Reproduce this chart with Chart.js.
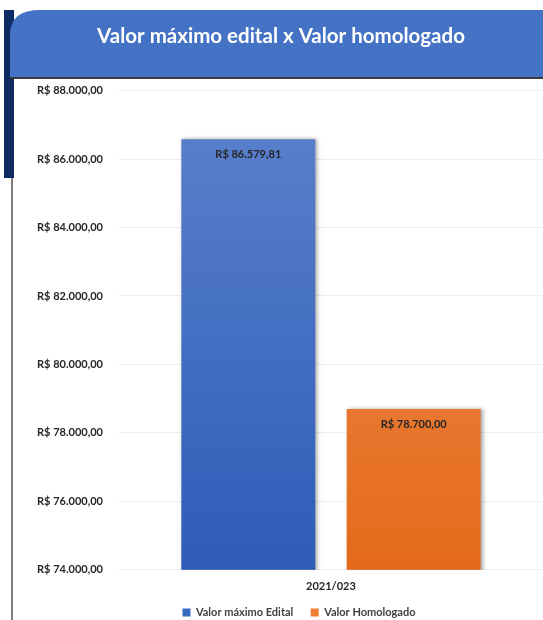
<!DOCTYPE html>
<html>
<head>
<meta charset="utf-8">
<script src="https://cdn.jsdelivr.net/npm/chart.js@4/dist/chart.umd.min.js"></script>
<style>
  html, body { margin: 0; padding: 0; background: #fff; }
  #wrap { position: relative; width: 543px; height: 620px; }
</style>
</head>
<body>
<div id="wrap"><canvas id="chart"></canvas></div>
<script>
// data
const categories = ['2021/023'];
const seriesNames = ['Valor máximo Edital', 'Valor Homologado'];
const valorMaximo = [86579.81];
const valorHomologado = [78700.00];
const yMin = 74000, yMax = 88000, yStep = 2000;

const fontFam = 'Lato, "Open Sans", sans-serif';

function brl(v) {
    return 'R$ ' + v.toLocaleString('pt-BR', { minimumFractionDigits: 2, maximumFractionDigits: 2 });
}

function grad(top, bottom) {
    return function (context) {
        const area = context.chart.chartArea;
        if (!area) return bottom;
        const g = context.chart.ctx.createLinearGradient(0, area.top, 0, area.bottom);
        g.addColorStop(0, top);
        g.addColorStop(1, bottom);
        return g;
    };
}

// banner + left stripes behind the chart
const frame = {
    id: 'frame',
    afterLayout(chart) {
        // nudge legend and title like the original
        const lg = chart.legend;
        lg.top += 8; lg.bottom += 8;
        lg.left += 9; lg.right += 9;
        const tb = chart.titleBlock;
        tb.left -= 9; tb.right -= 9;
    },
    beforeDraw(chart) {
        const c = chart.ctx;
        c.save();
        c.fillStyle = '#ffffff';
        c.fillRect(0, 0, chart.width, chart.height);
        // navy stripe
        c.fillStyle = '#0d2a63';
        c.fillRect(4, 10, 10, 168);
        // gray rule
        c.fillStyle = '#7f7f7f';
        c.fillRect(11, 178, 2, chart.height - 178);
        // banner
        c.fillStyle = '#4472c4';
        c.beginPath();
        c.moveTo(10, 77);
        c.lineTo(10, 32);
        c.quadraticCurveTo(12, 10, 40, 10);
        c.lineTo(chart.width, 10);
        c.lineTo(chart.width, 77);
        c.closePath();
        c.fill();
        c.fillStyle = '#3a3a3a';
        c.fillRect(10, 77, chart.width - 10, 2);
        c.restore();
    },
    beforeDatasetsDraw(chart) {
        chart.ctx.save();
        chart.ctx.shadowColor = 'rgba(0,0,0,0.35)';
        chart.ctx.shadowBlur = 4;
        chart.ctx.shadowOffsetX = 2;
    },
    afterDatasetsDraw(chart) {
        const c = chart.ctx;
        c.restore();
        c.save();
        c.font = 'bold 11px ' + fontFam;
        c.fillStyle = '#262626';
        c.textAlign = 'center';
        c.textBaseline = 'top';
        chart.data.datasets.forEach((ds, i) => {
            chart.getDatasetMeta(i).data.forEach((bar, j) => {
                c.fillText(brl(ds.data[j]), bar.x, bar.y + 10);
            });
        });
        c.restore();
    }
};

const config = {
    type: 'bar',
    data: {
        labels: categories,
        datasets: [{
            label: seriesNames[0],
            data: valorMaximo,
            backgroundColor: grad('#5b82cc', '#2f5cb8')
        }, {
            label: seriesNames[1],
            data: valorHomologado,
            backgroundColor: grad('#f09058', '#e46a1a')
        }]
    },
    options: {
        responsive: false,
        animation: false,
        categoryPercentage: 0.78,
        barPercentage: 0.81,
        layout: { padding: { left: 37, right: 0, bottom: 0 } },
        plugins: {
            title: {
                display: true,
                text: 'Valor máximo edital x Valor homologado',
                color: '#ffffff',
                font: { family: fontFam, size: 20.5, weight: 'bold' },
                padding: { top: 24, bottom: 42 }
            },
            legend: {
                position: 'bottom',
                labels: {
                    boxWidth: 8,
                    boxHeight: 8,
                    padding: 4,
                    color: '#404040',
                    font: { family: fontFam, size: 11, weight: 'bold' },
                    generateLabels(chart) {
                        const fills = ['#3a67c0', '#ee7b30'];
                        return chart.data.datasets.map((ds, i) => ({
                            text: i === 0 ? ds.label + '     ' : ds.label,
                            fillStyle: fills[i],
                            strokeStyle: fills[i],
                            lineWidth: 0,
                            datasetIndex: i,
                            fontColor: '#404040'
                        }));
                    }
                }
            },
            tooltip: { enabled: false }
        },
        scales: {
            x: {
                grid: { display: false },
                border: { display: false },
                ticks: { color: '#262626', font: { family: fontFam, size: 11, weight: 'bold' }, padding: 2 }
            },
            y: {
                min: yMin,
                max: yMax,
                ticks: {
                    stepSize: yStep,
                    crossAlign: 'far',
                    color: '#262626',
                    font: { family: fontFam, size: 11, weight: 'bold' },
                    padding: 8,
                    callback: v => brl(v)
                },
                grid: { color: '#eeeeee', drawTicks: false },
                border: { display: false }
            }
        }
    },
    plugins: [frame]
};

const canvas = document.getElementById('chart');
canvas.width = 543;
canvas.height = 620;
canvas.style.width = '543px';
canvas.style.height = '620px';
const myChart = new Chart(canvas, config);
</script>
</body>
</html>
